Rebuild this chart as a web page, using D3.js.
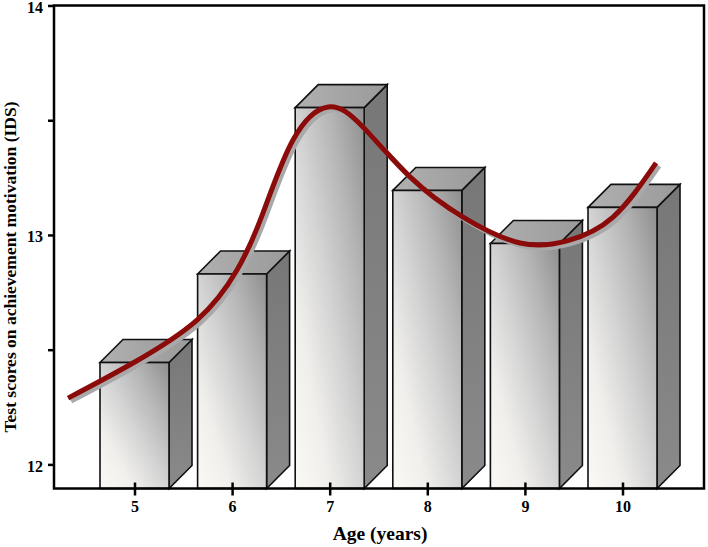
<!DOCTYPE html>
<html><head><meta charset="utf-8">
<script src="https://cdn.jsdelivr.net/npm/d3@7"></script>
<style>html,body{margin:0;padding:0;background:#fff}svg{display:block}
text{font-family:"Liberation Serif",serif;font-weight:bold;fill:#000}</style></head>
<body><svg id="c" width="708" height="547"></svg>
<script>
const ages=[5,6,7,8,9,10];
const scores=[12.444,12.83,13.555,13.194,12.963,13.12];
const yTickValues=[12,12.5,13,13.5,14];
const yTickLabels=["12","","13","","14"];
const curveAges=[4.319,4.985,5.64,6.05,6.317,6.624,6.983,7.341,7.823,8.366,8.95,9.432,9.903,10.344];
const curveScores=[12.289,12.442,12.629,12.847,13.096,13.414,13.558,13.47,13.253,13.078,12.965,12.974,13.078,13.314];
const svg=d3.select("#c"),left=54,right=704,top_=5.5,bottom=488.5;
const x=d3.scaleLinear().domain([5,10]).range([134.5,622.5]);
const y=d3.scaleLinear().domain([11.895,14]).range([bottom,top_]);
const bw=69,dd=23;
const defs=svg.append("defs");
function lg(id,x1,y1,x2,y2,stops){const g=defs.append("linearGradient").attr("id",id)
 .attr("x1",x1).attr("y1",y1).attr("x2",x2).attr("y2",y2);
 stops.forEach(s=>g.append("stop").attr("offset",s[0]).attr("stop-color",s[1]));}
lg("front",0,1,1,0,[[0,"#fbf9f5"],[0.25,"#f0efec"],[0.5,"#d3d3d3"],[0.75,"#b4b4b4"],[1,"#8e8e8e"]]);
lg("topf",0,0,1,0,[[0,"#b0b0b0"],[1,"#9a9a9a"]]);
lg("side",0,0,0,1,[[0,"#777777"],[1,"#8a8a8a"]]);
const blur=defs.append("filter").attr("id","sh");blur.append("feGaussianBlur").attr("stdDeviation",0.7);
const bars=svg.append("g").selectAll("g").data(ages.map((a,i)=>({a,v:scores[i]}))).join("g");
const bs={stroke:"#111","stroke-width":1.6,"stroke-linejoin":"miter"};
function st(s){Object.entries(bs).forEach(([k,v])=>s.attr(k,v));return s;}
st(bars.append("path").attr("fill","url(#side)").attr("d",d=>{const r=x(d.a)+bw/2,t=y(d.v);
 return `M${r},${t}L${r+dd},${t-dd}L${r+dd},${bottom-dd}L${r},${bottom}Z`;}));
st(bars.append("path").attr("fill","url(#topf)").attr("d",d=>{const l=x(d.a)-bw/2,r=l+bw,t=y(d.v);
 return `M${l},${t}L${l+dd},${t-dd}L${r+dd},${t-dd}L${r},${t}Z`;}));
st(bars.append("rect").attr("fill","url(#front)").attr("x",d=>x(d.a)-bw/2).attr("y",d=>y(d.v))
 .attr("width",bw).attr("height",d=>bottom-y(d.v)));
const pts=curveAges.map((a,i)=>[a,curveScores[i]]);
const line=d3.line().x(d=>x(d[0])).y(d=>y(d[1])).curve(d3.curveNatural);
svg.append("path").attr("d",line(pts)).attr("fill","none").attr("stroke","#a9a9a9").attr("stroke-width",5)
 .attr("transform","translate(3,3)").attr("filter","url(#sh)");
svg.append("path").attr("d",line(pts)).attr("fill","none").attr("stroke","#8b0a0a").attr("stroke-width",5);
const ay=svg.append("g").attr("transform",`translate(${left},0)`)
 .call(d3.axisLeft(y).tickValues(yTickValues).tickSize(6).tickPadding(4).tickFormat((d,i)=>yTickLabels[i]));
ay.select(".domain").remove();
ay.selectAll("line").attr("stroke","#000").attr("stroke-width",2.5);
ay.selectAll("text").attr("font-size",16).attr("dx",-1).attr("dy","0.42em");
const ax=svg.append("g").attr("transform",`translate(0,${bottom})`)
 .call(d3.axisBottom(x).tickValues(ages).tickSize(7).tickPadding(5).tickFormat(d3.format("d")));
ax.select(".domain").remove();
ax.selectAll("line").attr("stroke","#000").attr("stroke-width",2.5).attr("y1",-6);
ax.selectAll("text").attr("font-size",16);
svg.append("path").attr("d",`M${left},${top_}H${right}V${bottom}H${left}Z`).attr("fill","none").attr("stroke","#000").attr("stroke-width",2.5);
svg.append("text").attr("x",380).attr("y",540).attr("text-anchor","middle").attr("font-size",19.5).text("Age (years)");
svg.append("text").attr("transform","translate(16,267) rotate(-90)").attr("text-anchor","middle").attr("font-size",17.5).text("Test scores on achievement motivation (IDS)");
</script></body></html>
